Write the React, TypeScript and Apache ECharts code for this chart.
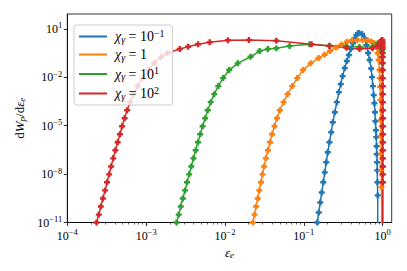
import { useEffect, useRef } from 'react';
import * as echarts from 'echarts';

const FONT = '"Liberation Serif", "DejaVu Serif", serif';

// ---- data (electron energy fraction ε_e, spectrum dW_p/dε_e) ----
const seriesNames = ['chi=0.1', 'chi=1', 'chi=10', 'chi=100'];
const legendLabels = [
  '{i|χ}{s|γ}{t| = 10}{e|−1}',
  '{i|χ}{s|γ}{t| = 1}',
  '{i|χ}{s|γ}{t| = 10}{e|1}',
  '{i|χ}{s|γ}{t| = 10}{e|2}',
];
const seriesColors = ['#1f77b4', '#ff7f0e', '#2ca02c', '#d62728'];

const blueEps = [0.144, 0.148, 0.1545, 0.1614, 0.1686, 0.1762, 0.1841, 0.1923, 0.201, 0.211, 0.222, 0.233, 0.247, 0.262, 0.278, 0.294, 0.31, 0.33, 0.351, 0.372, 0.395, 0.419, 0.443, 0.465, 0.485, 0.503, 0.546, 0.587, 0.622, 0.653, 0.683, 0.713, 0.732, 0.75, 0.769, 0.785, 0.797, 0.808, 0.82, 0.827, 0.837, 0.842, 0.849, 0.852, 0.857, 0.864, 0.866];
const blueW = [4.2e-12, 1e-11, 4.2e-11, 1.75e-10, 7.3e-10, 3.1e-9, 1.29e-8, 5.4e-8, 2.25e-7, 9.4e-7, 3.95e-6, 1.66e-5, 6.9e-5, 2.9e-4, 1.22e-3, 3.8e-3, 0.012, 0.0378, 0.103, 0.243, 0.574, 1.3, 2.58, 4.26, 5.43, 5.68, 4.92, 2.77, 1.02, 0.324, 0.119, 0.0352, 0.0104, 2.87e-3, 7.9e-4, 2.5e-4, 6.9e-5, 1.9e-5, 5.3e-6, 1.97e-6, 5.3e-7, 1.7e-7, 5.4e-8, 1.7e-8, 3.1e-9, 4.8e-10, 1e-13];

const orangeEps = [0.0219, 0.0226, 0.0237, 0.0248, 0.026, 0.0272, 0.0286, 0.0299, 0.0313, 0.033, 0.035, 0.0372, 0.0395, 0.0424, 0.0456, 0.0496, 0.0553, 0.0622, 0.0711, 0.0825, 0.0977, 0.1216, 0.1535, 0.183, 0.215, 0.257, 0.3, 0.352, 0.407, 0.479, 0.553, 0.64, 0.719, 0.785, 0.832, 0.864, 0.887, 0.908, 0.919, 0.927, 0.935, 0.943, 0.949, 0.954, 0.96, 0.963, 0.983];
const orangeW = [4.2e-12, 1e-11, 3.1e-11, 9.9e-11, 3.1e-10, 9.8e-10, 3.1e-9, 9.7e-9, 3.0e-8, 9.5e-8, 3.0e-7, 9.4e-7, 2.97e-6, 9.3e-6, 2.9e-5, 9.2e-5, 2.9e-4, 9.1e-4, 2.87e-3, 9.0e-3, 0.0284, 0.074, 0.158, 0.254, 0.43, 0.71, 1.09, 1.63, 2.0, 2.08, 2.08, 2.08, 1.68, 1.3, 0.76, 0.31, 0.119, 0.0284, 9.0e-3, 2.6e-3, 3.9e-4, 2.2e-5, 2.2e-6, 1.87e-7, 1.7e-8, 1.57e-9, 1e-13];

const greenEps = [2.32e-3, 2.43e-3, 2.59e-3, 2.75e-3, 2.92e-3, 3.11e-3, 3.3e-3, 3.51e-3, 3.73e-3, 3.98e-3, 4.25e-3, 4.54e-3, 4.85e-3, 5.2e-3, 5.6e-3, 6.04e-3, 6.59e-3, 7.3e-3, 8.22e-3, 9.48e-3, 0.0113, 0.0145, 0.0211, 0.0275, 0.035, 0.0448, 0.0659, 0.118, 0.211, 0.344, 0.507, 0.746, 0.864, 0.935, 0.955, 0.965, 0.9725, 0.9789, 0.9855, 0.9887, 0.99052, 0.99178, 0.9927, 0.99341, 0.99396, 0.9944, 0.9948, 0.99515, 0.99546, 0.99575, 0.99602, 0.99627, 0.99649, 0.9967, 1.0];
const greenW = [4.2e-12, 1e-11, 3.1e-11, 9.9e-11, 3.1e-10, 9.8e-10, 3.1e-9, 9.7e-9, 3.0e-8, 9.5e-8, 3.0e-7, 9.4e-7, 2.97e-6, 9.3e-6, 2.9e-5, 9.2e-5, 2.9e-4, 9.1e-4, 2.87e-3, 9.0e-3, 0.0284, 0.074, 0.19, 0.43, 0.574, 0.634, 0.88, 1.12, 0.92, 0.845, 0.76, 0.8, 1.3, 0.88, 0.634, 0.574, 0.43, 0.19, 0.074, 0.0284, 9.0e-3, 2.87e-3, 9.1e-4, 2.9e-4, 9.2e-5, 2.9e-5, 9.3e-6, 2.97e-6, 9.4e-7, 3.0e-7, 9.5e-8, 3.0e-8, 9.7e-9, 3.1e-9, 1e-13];

const redEps = [2.24e-4, 2.35e-4, 2.51e-4, 2.66e-4, 2.83e-4, 3.01e-4, 3.19e-4, 3.39e-4, 3.59e-4, 3.82e-4, 4.07e-4, 4.35e-4, 4.65e-4, 4.95e-4, 5.33e-4, 5.73e-4, 6.24e-4, 6.9e-4, 7.8e-4, 8.97e-4, 1.07e-3, 1.27e-3, 1.55e-3, 1.87e-3, 2.67e-3, 3.4e-3, 4.55e-3, 6.4e-3, 0.0109, 0.0201, 0.0448, 0.125, 0.211, 0.347, 0.507, 0.741, 0.857, 0.922, 0.963, 0.98, 0.989, 0.9936, 0.99545, 0.9966, 0.99733, 0.99813, 0.99845, 0.99873, 0.99893, 0.9991, 0.99922, 0.99931, 0.99938, 0.99943, 0.99947, 0.9995, 0.99953, 0.99957, 0.99959, 0.99962, 0.99964, 0.99966, 0.99968, 1.0];
const redW = [4.2e-12, 1e-11, 3.1e-11, 9.9e-11, 3.1e-10, 9.8e-10, 3.1e-9, 9.7e-9, 3.0e-8, 9.5e-8, 3.0e-7, 9.4e-7, 2.97e-6, 9.3e-6, 2.9e-5, 9.2e-5, 2.9e-4, 9.1e-4, 2.87e-3, 9.0e-3, 0.0284, 0.0773, 0.182, 0.324, 0.574, 0.8, 1.12, 1.5, 2.0, 2.08, 1.88, 1.14, 0.88, 0.69, 0.574, 0.634, 0.88, 1.36, 1.94, 2.08, 2.0, 1.5, 1.12, 0.8, 0.574, 0.324, 0.182, 0.0773, 0.0284, 9.0e-3, 2.87e-3, 9.1e-4, 2.9e-4, 9.2e-5, 2.9e-5, 9.3e-6, 2.97e-6, 9.4e-7, 3.0e-7, 9.5e-8, 3.0e-8, 9.7e-9, 3.1e-9, 1e-13];

// axis ticks
const xMajorTicks = [1e-4, 1e-3, 1e-2, 1e-1, 1];
const xMinorMultipliers = [2, 3, 4, 5, 6, 7, 8, 9];
const xMinorDecades = [1e-4, 1e-3, 1e-2, 1e-1];
const yMajorTicks = [1e-11, 1e-8, 1e-5, 1e-2, 10];
const X_MIN = 1e-4;
const X_MAX = 1.3;
const Y_MIN = 1e-11;
const Y_MAX = 85;

const epsList = [blueEps, orangeEps, greenEps, redEps];
const wList = [blueW, orangeW, greenW, redW];

const PLUS = 'path://M0.3,0h0.4v0.3h0.3v0.4h-0.3v0.3h-0.4v-0.3h-0.3v-0.4h0.3z';

const supLabel = (v: number) => {
  const e = Math.round(Math.log10(v));
  return `{b|10}{e|${e < 0 ? '−' + -e : e}}`;
};

const tickRich = {
  b: { fontFamily: FONT, fontSize: 12, color: '#000' },
  e: { fontFamily: FONT, fontSize: 8.5, color: '#000', padding: [0, 0, 7, 0] },
};

export default function App() {
  const ref = useRef<HTMLDivElement>(null);
  useEffect(() => {
    const chart = echarts.init(ref.current!, null, { renderer: 'svg' });
    const minorTicks: number[] = [];
    xMinorDecades.forEach((d) => xMinorMultipliers.forEach((m) => minorTicks.push(m * d)));

    const axisCommon = {
      type: 'log' as const,
      logBase: 10,
      splitLine: { show: false },
      minorSplitLine: { show: false },
    };

    chart.setOption({
      animation: false,
      grid: {
        left: 67.3,
        top: 14,
        right: 15.3,
        bottom: 48.5,
        show: true,
        borderColor: '#000',
        borderWidth: 0.8,
        backgroundColor: 'transparent',
      },
      legend: {
        data: seriesNames,
        left: 74,
        top: 25,
        orient: 'vertical',
        icon: 'rect',
        itemWidth: 28,
        itemHeight: 2,
        itemGap: 3.5,
        padding: [3, 8, 4, 5],
        backgroundColor: 'rgba(255,255,255,0.8)',
        borderColor: '#cccccc',
        borderWidth: 1,
        borderRadius: 3,
        selectedMode: false,
        formatter: (name: string) => legendLabels[seriesNames.indexOf(name)],
        textStyle: {
          fontFamily: FONT,
          fontSize: 14,
          color: '#000',
          padding: [0, 0, 0, 3],
          rich: {
            i: { fontFamily: FONT, fontSize: 14, fontStyle: 'italic', color: '#000' },
            s: { fontFamily: FONT, fontSize: 10, fontStyle: 'italic', color: '#000', padding: [5, 0, 0, 0] },
            t: { fontFamily: FONT, fontSize: 14, color: '#000' },
            e: { fontFamily: FONT, fontSize: 10, color: '#000', padding: [0, 0, 7, 0] },
          },
        },
      },
      xAxis: [
        {
          ...axisCommon,
          min: X_MIN,
          max: X_MAX,
          position: 'bottom',
          axisLine: { show: true, lineStyle: { color: '#000', width: 0.8 } },
          axisTick: { show: true, length: 3.5, lineStyle: { color: '#000', width: 0.8 }, customValues: xMajorTicks },
          axisLabel: { show: true, margin: 5, customValues: xMajorTicks, formatter: supLabel, rich: tickRich },
          name: '{i|ε}{s|e}',
          nameLocation: 'middle',
          nameGap: 19,
          nameTextStyle: {
            rich: {
              i: { fontFamily: FONT, fontSize: 13, fontStyle: 'italic', color: '#000' },
              s: { fontFamily: FONT, fontSize: 9, fontStyle: 'italic', color: '#000', padding: [5, 0, 0, 0] },
            },
          },
        },
        {
          ...axisCommon,
          min: X_MIN,
          max: X_MAX,
          position: 'bottom',
          axisLine: { show: false },
          axisTick: { show: true, length: 2, lineStyle: { color: '#000', width: 0.6 }, customValues: minorTicks },
          axisLabel: { show: false },
        },
      ],
      yAxis: {
        ...axisCommon,
        min: Y_MIN,
        max: Y_MAX,
        axisLine: { show: true, lineStyle: { color: '#000', width: 0.8 } },
        axisTick: { show: true, length: 3.5, lineStyle: { color: '#000', width: 0.8 }, customValues: yMajorTicks },
        axisLabel: { show: true, margin: 5, customValues: yMajorTicks, formatter: supLabel, rich: tickRich },
        name: '{t|d}{i|W}{s|p}{t|/d}{i|ε}{s|e}',
        nameLocation: 'middle',
        nameRotate: 90,
        nameGap: 40,
        nameTextStyle: {
          rich: {
            t: { fontFamily: FONT, fontSize: 13, color: '#000' },
            i: { fontFamily: FONT, fontSize: 13, fontStyle: 'italic', color: '#000' },
            s: { fontFamily: FONT, fontSize: 9, fontStyle: 'italic', color: '#000', padding: [5, 0, 0, 0] },
          },
        },
      },
      series: seriesNames.map((name, k) => ({
        name,
        type: 'line',
        xAxisIndex: 0,
        yAxisIndex: 0,
        data: epsList[k].map((x, j) => [x, wList[k][j]]),
        color: seriesColors[k],
        lineStyle: { width: 1.5, color: seriesColors[k] },
        itemStyle: { color: seriesColors[k] },
        symbol: PLUS,
        symbolSize: 6,
        showSymbol: true,
        clip: true,
        silent: true,
        emphasis: { disabled: true },
      })),
    });
    return () => chart.dispose();
  }, []);
  return <div ref={ref} style={{ position: 'absolute', left: 0, top: 0, width: 407, height: 271 }} />;
}
